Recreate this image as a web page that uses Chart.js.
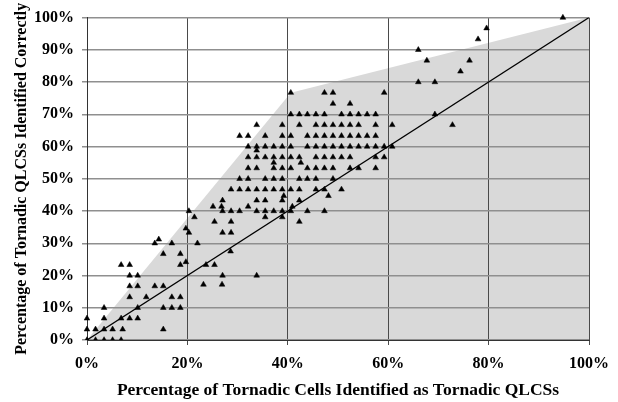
<!DOCTYPE html>
<html>
<head>
<meta charset="utf-8">
<script src="https://cdn.jsdelivr.net/npm/chart.js@4/dist/chart.umd.min.js"></script>
<style>
  html, body { margin: 0; padding: 0; background: #ffffff; }
  #wrap { width: 618px; height: 402px; }
</style>
</head>
<body>
<div id="wrap"><canvas id="chart" width="618" height="402"></canvas></div>
<script>
// Axis ticks (percent)
const xTicks = [0, 20, 40, 60, 80, 100];
const yTicks = [0, 10, 20, 30, 40, 50, 60, 70, 80, 90, 100];

// Upper boundary of the shaded region (filled down to 0%)
const shadeX = [0, 40.6, 100];
const shadeY = [0, 76.7, 100];

// One-to-one reference line
const refX = [0, 100];
const refY = [0, 100];

// [% of tornadic cells identified as tornadic QLCSs, % of tornadic QLCSs identified correctly]
const cases = [
  [0,0],[1.7,0],[3.4,0],[5.1,0],[6.8,0],
  [0,3.3],[1.7,3.3],[3.4,3.3],[5.1,3.3],[7.1,3.3],[15.2,3.3],
  [0,6.7],[3.4,6.7],[6.8,6.7],[8.5,6.7],[10.1,6.7],
  [3.4,10],[10.1,10],[15.2,10],[16.9,10],[18.6,10],
  [8.5,13.3],[11.8,13.3],[16.9,13.3],[18.6,13.3],
  [8.5,16.7],[10.1,16.7],[13.5,16.7],[15.2,16.7],
  [23.2,17.2],[26.9,17.2],
  [8.5,20],[10.1,20],[27.0,20],[33.8,20],
  [6.8,23.3],[8.5,23.3],[18.6,23.3],[23.7,23.3],[25.4,23.3],
  [19.7,24.2],
  [15.2,26.7],[18.6,26.7],
  [28.6,27.5],
  [13.5,30],[16.9,30],[22.0,30],
  [14.3,31.2],
  [20.3,33.3],[27.0,33.3],[28.7,33.3],
  [19.7,34.6],
  [25.4,36.7],[28.7,36.7],[42.3,36.7],
  [21.4,38.1],[35.5,38.1],[38.9,38.1],
  [20.3,40],[27.0,40],[28.7,40],[30.4,40],[33.8,40],[35.5,40],[37.2,40],[38.9,40],[40.6,40],[43.9,40],[47.3,40],
  [25.1,41.4],[26.8,41.4],[32.1,41.4],[40.9,41.4],
  [27.0,43.3],[33.8,43.3],[35.5,43.3],[38.9,43.3],[42.3,43.3],
  [39.2,44.7],[48.1,44.7],
  [28.7,46.7],[30.4,46.7],[32.1,46.7],[33.8,46.7],[35.5,46.7],[37.2,46.7],[38.9,46.7],[40.6,46.7],[42.3,46.7],[45.6,46.7],[47.3,46.7],[50.7,46.7],
  [30.4,50],[32.1,50],[35.5,50],[37.2,50],[38.9,50],[42.3,50],[43.9,50],[45.6,50],[49.0,50],
  [32.1,53.3],[33.8,53.3],[37.2,53.3],[38.9,53.3],[40.6,53.3],[43.9,53.3],[45.6,53.3],[47.3,53.3],[49.0,53.3],[52.4,53.3],[54.1,53.3],[57.5,53.3],
  [37.2,55],[42.6,55],
  [32.1,56.7],[33.8,56.7],[35.5,56.7],[37.2,56.7],[38.9,56.7],[40.6,56.7],[42.3,56.7],[45.6,56.7],[47.3,56.7],[49.0,56.7],[50.7,56.7],[52.4,56.7],[57.5,56.7],[59.2,56.7],
  [33.8,58.8],
  [32.1,60],[33.8,60],[35.5,60],[37.2,60],[38.9,60],[40.6,60],[43.9,60],[45.6,60],[47.3,60],[49.0,60],[50.7,60],[52.4,60],[54.1,60],[55.8,60],[57.5,60],[59.2,60],[60.8,60],
  [30.4,63.3],[32.1,63.3],[35.5,63.3],[38.9,63.3],[40.6,63.3],[43.9,63.3],[45.6,63.3],[47.3,63.3],[49.0,63.3],[50.7,63.3],[52.4,63.3],[54.1,63.3],[55.8,63.3],[57.5,63.3],
  [33.8,66.7],[38.9,66.7],[42.3,66.7],[45.6,66.7],[47.3,66.7],[49.0,66.7],[50.7,66.7],[52.4,66.7],[54.1,66.7],[57.5,66.7],[60.8,66.7],[72.8,66.7],
  [40.6,70],[42.3,70],[43.9,70],[45.6,70],[47.3,70],[50.7,70],[52.4,70],[54.1,70],[55.8,70],[57.5,70],[69.3,70],
  [49.0,73.3],[52.4,73.3],
  [40.6,76.7],[47.3,76.7],[49.0,76.7],[59.2,76.7],
  [66.0,80],[69.3,80],
  [74.4,83.3],
  [67.7,86.7],[76.2,86.7],
  [66.0,90],
  [77.9,93.3],
  [79.6,96.7],
  [94.8,100]
];

const serif = 'Liberation Serif, "Times New Roman", Times, serif';
const toXY = (xs, ys) => xs.map((x, i) => ({ x: x, y: ys[i] }));

new Chart(document.getElementById('chart'), {
  type: 'scatter',
  data: {
    datasets: [
      {
        label: 'cases',
        data: cases.map(p => ({ x: p[0], y: p[1] })),
        pointStyle: 'triangle',
        pointRadius: 3.3,
        pointBackgroundColor: '#000000',
        pointBorderColor: '#000000',
        pointBorderWidth: 0.5,
        clip: { left: 8, top: 8, right: 8, bottom: 0 },
        order: 0
      },
      {
        label: 'one-to-one',
        data: toXY(refX, refY),
        showLine: true,
        borderColor: '#000000',
        borderWidth: 1.3,
        pointRadius: 0,
        fill: false,
        order: 1
      },
      {
        label: 'envelope',
        data: toXY(shadeX, shadeY),
        showLine: true,
        borderWidth: 0,
        borderColor: 'rgba(0,0,0,0)',
        backgroundColor: '#d9d9d9',
        pointRadius: 0,
        fill: 'origin',
        order: 2
      }
    ]
  },
  options: {
    responsive: false,
    animation: false,
    events: [],
    layout: { padding: { top: 10, right: 26, bottom: 0, left: 0 } },
    plugins: {
      legend: { display: false },
      tooltip: { enabled: false },
      filler: { drawTime: 'beforeDraw' }
    },
    scales: {
      x: {
        type: 'linear',
        min: 0,
        max: 100,
        afterFit: s => { s.height = 62; },
        afterBuildTicks: s => { s.ticks = xTicks.map(v => ({ value: v })); },
        grid: { color: '#4a4a4a', lineWidth: 1, tickLength: 5 },
        border: { color: '#333333', width: 1 },
        ticks: {
          padding: 9,
          color: '#000000',
          font: { family: serif, weight: 'bold', size: 16 },
          callback: v => v + '%'
        },
        title: {
          display: true,
          text: 'Percentage of Tornadic Cells Identified as Tornadic QLCSs',
          color: '#000000',
          font: { family: serif, weight: 'bold', size: 17.5 },
          padding: { top: 0, bottom: 1 }
        }
      },
      y: {
        type: 'linear',
        min: 0,
        max: 100,
        afterFit: s => { s.width = 87; },
        afterBuildTicks: s => { s.ticks = yTicks.map(v => ({ value: v })); },
        grid: { color: '#8f8f8f', lineWidth: 1.5, tickLength: 5 },
        border: { color: '#333333', width: 1 },
        ticks: {
          padding: 8,
          color: '#000000',
          font: { family: serif, weight: 'bold', size: 16 },
          callback: v => v + '%'
        },
        title: {
          display: true,
          text: 'Percentage of Tornadic QLCSs Identified Correctly',
          color: '#000000',
          font: { family: serif, weight: 'bold', size: 16 },
          padding: { top: 12, bottom: 0 }
        }
      }
    }
  }
});
</script>
</body>
</html>
